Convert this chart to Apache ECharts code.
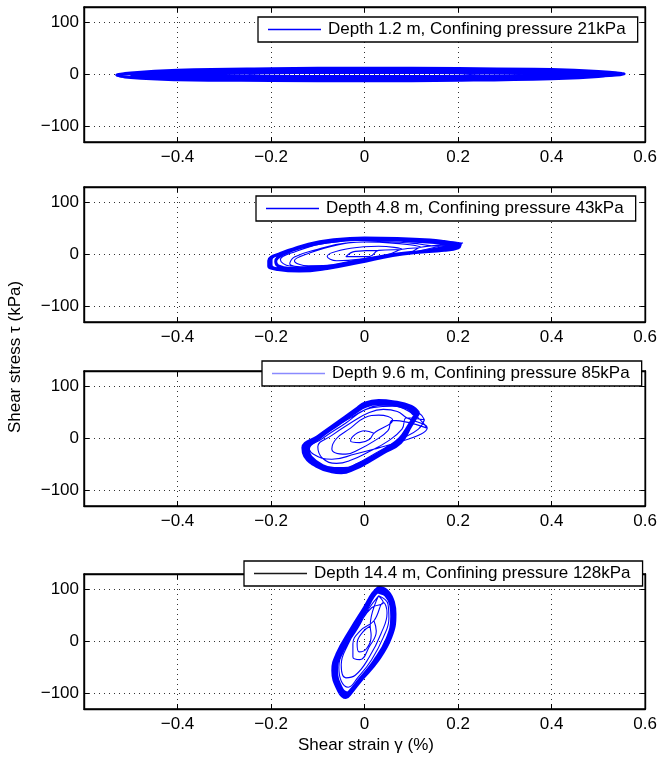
<!DOCTYPE html>
<html>
<head>
<meta charset="utf-8">
<script src="https://cdn.jsdelivr.net/npm/echarts@6/dist/echarts.min.js"></script>
<style>
html, body { margin: 0; padding: 0; background: #ffffff; }
#chart { width: 660px; height: 766px; }
</style>
</head>
<body>
<div id="chart"></div>
<script>
// Axis ticks shared by all four panels
const strainTicks = [-0.6, -0.4, -0.2, 0, 0.2, 0.4, 0.6];
const stressTicks = [-100, 0, 100];

// Legend text for each depth
const legendNames = [
  'Depth 1.2 m, Confining pressure 21kPa',
  'Depth 4.8 m, Confining pressure 43kPa',
  'Depth 9.6 m, Confining pressure 85kPa',
  'Depth 14.4 m, Confining pressure 128kPa'
];

// Stress-strain cycles, [strain %, stress kPa].
// "dense" = the many nearly identical steady cycles that pile up on the outer envelope,
// "loops" = individual early / transitional cycles.

// depth 1.2 m
const denseDepth1 = [
  [[0.55,2],[0.5,6],[0.4,9.5],[0.2,11.5],[0,12],[-0.2,11],[-0.4,8],[-0.5,3],[-0.525,-1],[-0.5,-6],[-0.4,-10],[-0.2,-11.5],[0,-12],[0.2,-11],[0.4,-8],[0.5,-4],[0.55,2]],
  [[0.555,1],[0.5,5],[0.4,8],[0.2,9.5],[0,10],[-0.2,9],[-0.4,6],[-0.5,2],[-0.53,-1],[-0.5,-5],[-0.4,-8],[-0.2,-9.5],[0,-10],[0.2,-9],[0.4,-6],[0.5,-3],[0.555,1]],
  [[0.53,2],[0.42,5.5],[0.2,7],[0,7.5],[-0.2,6.5],[-0.4,3.5],[-0.5,0],[-0.42,-4],[-0.2,-7],[0,-7.5],[0.2,-6.5],[0.42,-3],[0.53,2]],
  [[0.5,1.5],[0.3,3.5],[0,4],[-0.3,3],[-0.48,0],[-0.3,-3],[0,-4],[0.3,-3],[0.5,1.5]]
];
const loopsDepth1 = [
  [[0.2,3],[0.1,6],[0,7],[-0.1,6],[-0.2,3],[-0.25,-1],[-0.2,-4],[-0.1,-6],[0,-7],[0.1,-5],[0.2,-2],[0.24,1]],
  [[0.32,5],[0.2,8],[0,9],[-0.2,7],[-0.32,3],[-0.36,-2],[-0.3,-6],[-0.15,-9],[0,-9],[0.15,-7],[0.3,-3],[0.35,2]],
  [[0.45,5],[0.3,9],[0.1,10],[-0.1,10],[-0.3,7],[-0.44,2],[-0.47,-3],[-0.38,-7],[-0.2,-10],[0,-10],[0.2,-9],[0.38,-5],[0.47,1]],
  [[0.55,3],[0.45,7],[0.25,10],[0,11],[-0.25,9],[-0.42,6],[-0.52,1],[-0.53,-3],[-0.45,-7],[-0.25,-10],[0,-11],[0.25,-9],[0.45,-5],[0.54,-1]],
  [[0.5,4],[0.35,8],[0.15,10],[-0.05,10],[-0.25,8],[-0.4,4],[-0.49,0],[-0.42,-5],[-0.25,-9],[-0.05,-10],[0.15,-9],[0.35,-6],[0.5,-1],[0.52,2]]
];

// depth 4.8 m
const denseDepth2 = [
  [[0.205,20],[0.17,25],[0.14,28],[0.07,31],[0,32],[-0.07,28],[-0.12,20],[-0.17,5],[-0.2,-10],[-0.2,-20],[-0.19,-27],[-0.14,-31],[-0.07,-24],[0,-12],[0.06,-1],[0.11,4],[0.17,8],[0.2,13],[0.205,20]],
  [[0.2,19],[0.16,24],[0.12,27],[0.06,30],[-0.01,30],[-0.08,25],[-0.13,16],[-0.18,2],[-0.205,-12],[-0.205,-22],[-0.185,-29],[-0.14,-32],[-0.08,-27],[-0.01,-15],[0.06,-2],[0.12,5],[0.17,9],[0.2,19]],
  [[0.19,18],[0.15,23],[0.1,26],[0.04,29],[-0.02,29],[-0.08,24],[-0.13,15],[-0.175,0],[-0.19,-13],[-0.185,-22],[-0.16,-27],[-0.12,-27],[-0.06,-20],[0.01,-8],[0.07,1],[0.13,7],[0.19,18]]
];
const loopsDepth2 = [
  [[0.03,8],[-0.02,6],[-0.04,-4],[0.01,-4],[0.03,8]],
  [[0.08,10],[0.03,16],[-0.03,12],[-0.08,-4],[-0.06,-12],[0,-8],[0.05,0],[0.08,10]],
  [[0.12,14],[0.06,22],[0,24],[-0.06,18],[-0.12,2],[-0.15,-12],[-0.12,-22],[-0.06,-20],[0,-10],[0.06,-2],[0.1,5],[0.12,14]],
  [[0.21,22],[0.12,26],[0.02,28],[-0.08,22],[-0.15,5],[-0.18,-10],[-0.16,-22],[-0.1,-24],[-0.02,-12],[0.06,0],[0.14,8],[0.21,22]],
  [[0.16,16],[0.1,22],[0.03,25],[-0.04,22],[-0.1,10],[-0.15,-5],[-0.16,-18],[-0.12,-24],[-0.05,-18],[0.03,-6],[0.1,4],[0.16,16]]
];

// depth 9.6 m
const denseDepth3 = [
  [[0.116,49],[0.1,62],[0.06,71],[0.03,73],[0,68],[-0.015,59],[-0.05,36],[-0.1,4],[-0.132,-18],[-0.128,-34],[-0.1,-55],[-0.07,-64],[-0.05,-66],[-0.02,-58],[0.006,-46],[0.04,-28],[0.077,-8],[0.099,24],[0.116,49]],
  [[0.112,48],[0.096,60],[0.058,69],[0.03,70],[0,65],[-0.018,55],[-0.052,32],[-0.1,2],[-0.126,-19],[-0.122,-34],[-0.095,-54],[-0.068,-61],[-0.048,-62],[-0.018,-54],[0.009,-42],[0.042,-24],[0.076,-4],[0.097,25],[0.112,48]],
  [[0.108,46],[0.092,58],[0.055,66],[0.028,67],[0.002,62],[-0.02,50],[-0.055,28],[-0.098,0],[-0.12,-20],[-0.115,-35],[-0.09,-52],[-0.065,-58],[-0.045,-58],[-0.015,-50],[0.012,-38],[0.045,-20],[0.075,0],[0.095,26],[0.108,46]]
];
const loopsDepth3 = [
  [[0.02,10],[0,15],[-0.02,8],[-0.03,-5],[-0.01,-8],[0.01,-2],[0.02,10]],
  [[0.06,35],[0.03,45],[0,40],[-0.03,20],[-0.06,0],[-0.07,-20],[-0.04,-30],[-0.01,-20],[0.02,-5],[0.05,15],[0.06,35]],
  [[0.134,20],[0.12,35],[0.1,50],[0.06,62],[0.02,60],[-0.03,40],[-0.08,12],[-0.12,-12],[-0.11,-30],[-0.07,-40],[-0.02,-30],[0.03,-18],[0.08,-5],[0.12,8],[0.134,20]],
  [[0.09,40],[0.07,52],[0.04,56],[0.01,50],[-0.03,30],[-0.07,6],[-0.1,-16],[-0.09,-38],[-0.06,-48],[-0.03,-42],[0.01,-25],[0.05,-5],[0.08,18],[0.09,40]],
  [[0.128,36],[0.115,50],[0.08,62],[0.04,64],[0.0,55],[-0.04,30],[-0.09,0],[-0.125,-25],[-0.12,-40],[-0.09,-58],[-0.055,-62],[-0.02,-50],[0.03,-25],[0.08,0],[0.115,18],[0.128,36]]
];

// depth 14.4 m
const denseDepth4 = [
  [[0.031,105],[0.05,96],[0.062,75],[0.065,53],[0.056,8],[0.028,-37],[-0.008,-75],[-0.03,-100],[-0.04,-108],[-0.055,-96],[-0.068,-56],[-0.059,-24],[-0.029,24],[0,66],[0.017,92],[0.031,105]],
  [[0.03,101],[0.048,92],[0.06,72],[0.062,50],[0.052,6],[0.024,-38],[-0.01,-75],[-0.03,-97],[-0.039,-104],[-0.053,-92],[-0.064,-55],[-0.055,-24],[-0.025,23],[0.003,65],[0.018,89],[0.03,101]],
  [[0.029,97],[0.045,89],[0.056,70],[0.058,48],[0.048,5],[0.02,-38],[-0.012,-74],[-0.03,-94],[-0.037,-99],[-0.05,-89],[-0.06,-55],[-0.051,-24],[-0.022,22],[0.005,64],[0.018,86],[0.029,97]]
];
const loopsDepth4 = [
  [[0.02,40],[0.025,20],[0.01,-10],[-0.01,-35],[-0.025,-30],[-0.025,-5],[-0.01,20],[0.02,40]],
  [[0.04,75],[0.048,55],[0.035,15],[0.01,-30],[-0.02,-65],[-0.04,-70],[-0.05,-45],[-0.035,-5],[-0.01,35],[0.015,65],[0.04,75]],
  [[0.03,88],[0.05,72],[0.052,45],[0.04,8],[0.015,-35],[-0.015,-70],[-0.035,-88],[-0.05,-76],[-0.055,-50],[-0.045,-18],[-0.015,25],[0.008,62],[0.03,88]],
  [[0.012,30],[0.014,12],[0.004,-14],[-0.012,-20],[-0.016,-4],[-0.004,18],[0.012,30]]
];

const panelDense = [denseDepth1, denseDepth2, denseDepth3, denseDepth4];
const panelLoops = [loopsDepth1, loopsDepth2, loopsDepth3, loopsDepth4];
const legendLineColors = ['#0000ff', '#0000ff', '#8a8aff', '#1a1a1a'];

const FONT = "'Liberation Sans', Arial, Helvetica, sans-serif";
const FS = 17;
const gridTops = [7, 187, 371, 574];
const gridHeight = 135;
const legendPos = [
  { left: 258, top: 17 },
  { left: 256, top: 196 },
  { left: 262, top: 361 },
  { left: 244, top: 561 }
];

function fmtStrain(v) {
  if (Math.abs(v + 0.6) < 1e-9) return '';
  const r = Math.round(v * 10) / 10;
  if (r === 0) return '0';
  return (r < 0 ? '\u2212' : '') + Math.abs(r).toString();
}
function fmtStress(v) {
  return (v < 0 ? '\u2212' : '') + Math.abs(v).toString();
}
function flatten(loops) {
  const pts = [];
  loops.forEach(loop => loop.forEach(p => pts.push(p)));
  return pts;
}

const grids = [], xAxes = [], yAxes = [], series = [], legends = [];
const axisLineStyle = { color: '#000', width: 1.4 };
const gridLineStyle = { color: '#333', width: 1, type: [1, 4] };

for (let i = 0; i < 4; i++) {
  grids.push({ left: 84, right: 13, top: gridTops[i], height: gridHeight,
    show: true, borderColor: '#000', borderWidth: 1.4, backgroundColor: '#fff' });

  // bottom / left axes with labels and dotted grid
  xAxes.push({ gridIndex: i, type: 'value', position: 'bottom',
    min: strainTicks[0], max: strainTicks[strainTicks.length - 1], interval: 0.2,
    axisLine: { show: true, onZero: false, lineStyle: axisLineStyle },
    axisTick: { show: true, inside: true, length: 5, lineStyle: { color: '#000', width: 1 } },
    axisLabel: { color: '#000', fontSize: FS, fontFamily: FONT, margin: 7, formatter: fmtStrain },
    splitLine: { show: true, lineStyle: gridLineStyle } });
  yAxes.push({ gridIndex: i, type: 'value', position: 'left', min: -130, max: 130,
    axisLine: { show: true, onZero: false, lineStyle: axisLineStyle },
    axisTick: { show: true, inside: true, length: 5, customValues: stressTicks, lineStyle: { color: '#000', width: 1 } },
    axisLabel: { color: '#000', fontSize: FS, fontFamily: FONT, margin: 5, customValues: stressTicks, formatter: fmtStress },
    splitLine: { show: true, lineStyle: gridLineStyle } });

  // mirrored top / right axes carrying only the inner ticks
  xAxes.push({ gridIndex: i, type: 'value', position: 'top',
    min: strainTicks[0], max: strainTicks[strainTicks.length - 1], interval: 0.2,
    axisLine: { show: true, onZero: false, lineStyle: axisLineStyle },
    axisTick: { show: true, inside: true, length: 5, lineStyle: { color: '#000', width: 1 } },
    axisLabel: { show: false }, splitLine: { show: false } });
  yAxes.push({ gridIndex: i, type: 'value', position: 'right', min: -130, max: 130,
    axisLine: { show: true, onZero: false, lineStyle: axisLineStyle },
    axisTick: { show: true, inside: true, length: 5, customValues: stressTicks, lineStyle: { color: '#000', width: 1 } },
    axisLabel: { show: false, customValues: stressTicks }, splitLine: { show: false } });

  const common = { type: 'line', xAxisIndex: 2 * i, yAxisIndex: 2 * i,
    showSymbol: false, symbol: 'none', smooth: 0.45, animation: false, silent: true,
    itemStyle: { color: '#0000ff' } };
  series.push({ ...common, name: legendNames[i], data: flatten(panelLoops[i]),
    lineStyle: { color: '#0000ff', width: 1.1 }, z: 3 });
  series.push({ ...common, name: legendNames[i] + ' (steady cycles)', data: flatten(panelDense[i]),
    lineStyle: { color: '#0000ff', width: 3 }, z: 3 });

  // legend key drawn as a thin horizontal line sample
  legends.push({ ...legendPos[i], orient: 'horizontal', selectedMode: false,
    data: [{ name: legendNames[i] }],
    icon: 'rect', itemWidth: 53, itemHeight: 1.3,
    itemStyle: { color: legendLineColors[i], borderWidth: 0 },
    backgroundColor: '#fff', borderColor: '#000', borderWidth: 1.3, borderRadius: 0,
    padding: [4, 12, 4, 10], z: 10,
    textStyle: { color: '#000', fontSize: FS, fontFamily: FONT, padding: [0, 0, 0, 2] } });
}

const chart = echarts.init(document.getElementById('chart'), null, { renderer: 'canvas' });
chart.setOption({
  backgroundColor: '#fff',
  animation: false,
  grid: grids, xAxis: xAxes, yAxis: yAxes, series: series, legend: legends,
  graphic: [
    { type: 'text', x: 15, y: 357, rotation: Math.PI / 2, z: 20,
      style: { text: 'Shear stress \u03c4 (kPa)', fill: '#000', font: FS + 'px ' + FONT, textAlign: 'center', textVerticalAlign: 'middle' } },
    { type: 'text', x: 366, y: 745, z: 20,
      style: { text: 'Shear strain \u03b3 (%)', fill: '#000', font: FS + 'px ' + FONT, textAlign: 'center', textVerticalAlign: 'middle' } }
  ]
});
</script>
</body>
</html>
